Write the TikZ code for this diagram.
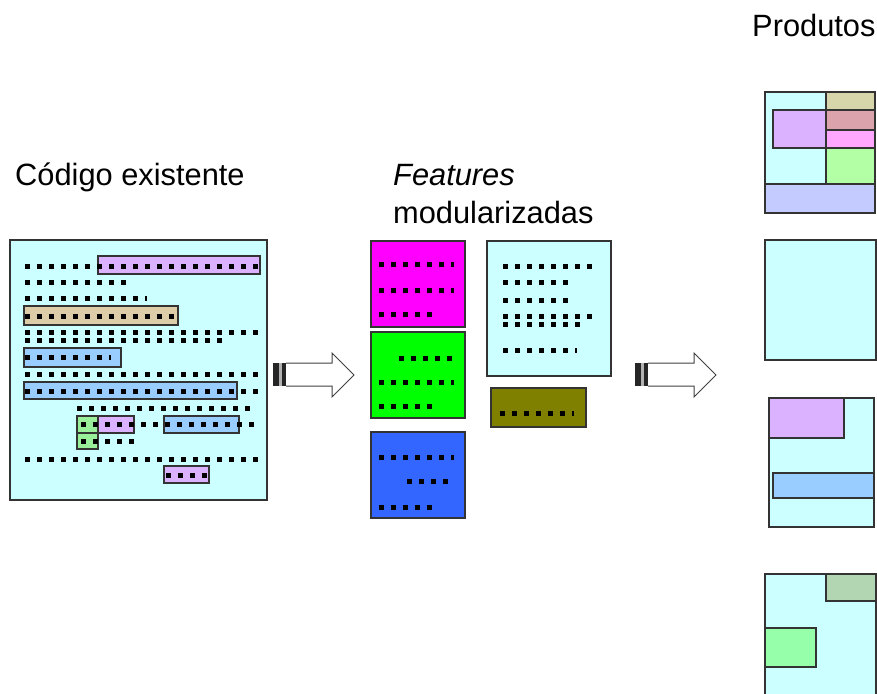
\documentclass[tikz,border=0pt]{standalone}
\usepackage{fontspec}
\setmainfont{Liberation Sans}

\definecolor{codebg}{RGB}{204,255,255}
\definecolor{hlpurple}{RGB}{218,178,255}
\definecolor{hltan}{RGB}{221,204,168}
\definecolor{hlblue}{RGB}{153,204,255}
\definecolor{hlgreen}{RGB}{153,238,153}
\definecolor{featmag}{RGB}{255,0,255}
\definecolor{featgreen}{RGB}{0,255,0}
\definecolor{featblue}{RGB}{51,102,255}
\definecolor{featolive}{RGB}{128,128,0}
\definecolor{prodolive}{RGB}{214,214,170}
\definecolor{prodrose}{RGB}{219,163,172}
\definecolor{prodpink}{RGB}{255,166,255}
\definecolor{prodgreen}{RGB}{178,255,166}
\definecolor{prodblue}{RGB}{196,204,255}
\definecolor{prodsage}{RGB}{178,214,178}
\definecolor{prodmint}{RGB}{150,255,170}

\begin{document}
\begin{tikzpicture}[x=1pt, y=-1pt,
  box/.style={draw=black!80, line width=1.6pt},
  codeline/.style={line width=5pt, dash pattern=on 5pt off 7pt},
  arrowline/.style={draw=black!75, fill=white, line width=1pt},
  title/.style={anchor=base west, inner sep=0pt, font=\fontsize{30.8}{36}\selectfont}]
\clip (0,0) rectangle (877,693);

% titles
\node[title] (codtitle) at (15,185) {Código existente};
\node[title] (feattitle) at (393,185) {\itshape Features};
\node[title] (modtitle) at (393,223) {modularizadas};
\node[title] (prodtitle) at (752,37) {Produtos};

% existing code with scattered feature code
\draw[box, fill=codebg] (10,240) rectangle (267,500);
\draw[box, fill=hlpurple] (98,256) rectangle (260,274);
\draw[box, fill=hltan] (24,306) rectangle (178,325);
\draw[box, fill=hlblue] (24,348) rectangle (121,367);
\draw[box, fill=hlblue] (24,382) rectangle (237,399);
\draw[box, fill=hlgreen] (77,416) rectangle (98,433);
\draw[box, fill=hlgreen] (77,433) rectangle (98,449);
\draw[box, fill=hlpurple] (98,416) rectangle (134,433);
\draw[box, fill=hlblue] (164,416) rectangle (239,433);
\draw[box, fill=hlpurple] (164,466) rectangle (209,483);
\foreach \a/\b/\y in {25/258/266, 25/126/282, 25/147/298, 25/174/316,
    25/258/332, 25/222/340, 25/111/357, 25/258/374, 25/258/391,
    77/250/408, 81/258/424, 81/137/441, 25/258/459, 166/208/475}
  \draw[codeline] (\a,\y) -- (\b,\y);

% modularized features
\draw[box, fill=featmag] (371,241) rectangle (465,327);
\draw[box, fill=featgreen] (371,332) rectangle (465,418);
\draw[box, fill=featblue] (371,432) rectangle (465,518);
\draw[box, fill=codebg] (487,241) rectangle (611,376);
\draw[box, fill=featolive] (491,388) rectangle (586,427);
\foreach \a/\b/\y in {379/454/264, 379/454/290, 379/432/314,
    399/452/358, 379/454/382, 379/432/406,
    379/454/457, 407/448/481, 379/432/507,
    503/592/266, 503/568/282, 503/568/300, 503/592/316, 503/580/324,
    503/577/350, 500/574/413}
  \draw[codeline] (\a,\y) -- (\b,\y);

% block arrows with striped tail
\foreach \ax in {273,635} {
  \fill[gray!60] (\ax,363) rectangle ++(13,23);
  \fill[black!85] (\ax,363) rectangle ++(6,23);
  \fill[black!85] (\ax+9,363) rectangle ++(4,23);
  \draw[arrowline] (\ax+13,363) -- (\ax+59,363) -- (\ax+59,353) -- (\ax+81,375)
    -- (\ax+59,397) -- (\ax+59,386) -- (\ax+13,386);
}

% products
\draw[box, fill=codebg] (765,92) rectangle (875,213);
\draw[box, fill=prodolive] (826,92) rectangle (875,110);
\draw[box, fill=hlpurple] (773,110) rectangle (826,148);
\draw[box, fill=prodrose] (826,110) rectangle (875,130);
\draw[box, fill=prodpink] (826,130) rectangle (875,148);
\draw[box, fill=prodgreen] (826,148) rectangle (875,184);
\draw[box, fill=prodblue] (765,184) rectangle (875,213);

\draw[box, fill=codebg] (765,240) rectangle (876,360);

\draw[box, fill=codebg] (769,398) rectangle (874,527);
\draw[box, fill=hlpurple] (769,398) rectangle (844,438);
\draw[box, fill=hlblue] (773,473) rectangle (874,498);

\draw[box, fill=codebg] (765,574) rectangle (876,705);
\draw[box, fill=prodsage] (826,574) rectangle (876,601);
\draw[box, fill=prodmint] (765,628) rectangle (816,667);
\end{tikzpicture}
\end{document}
